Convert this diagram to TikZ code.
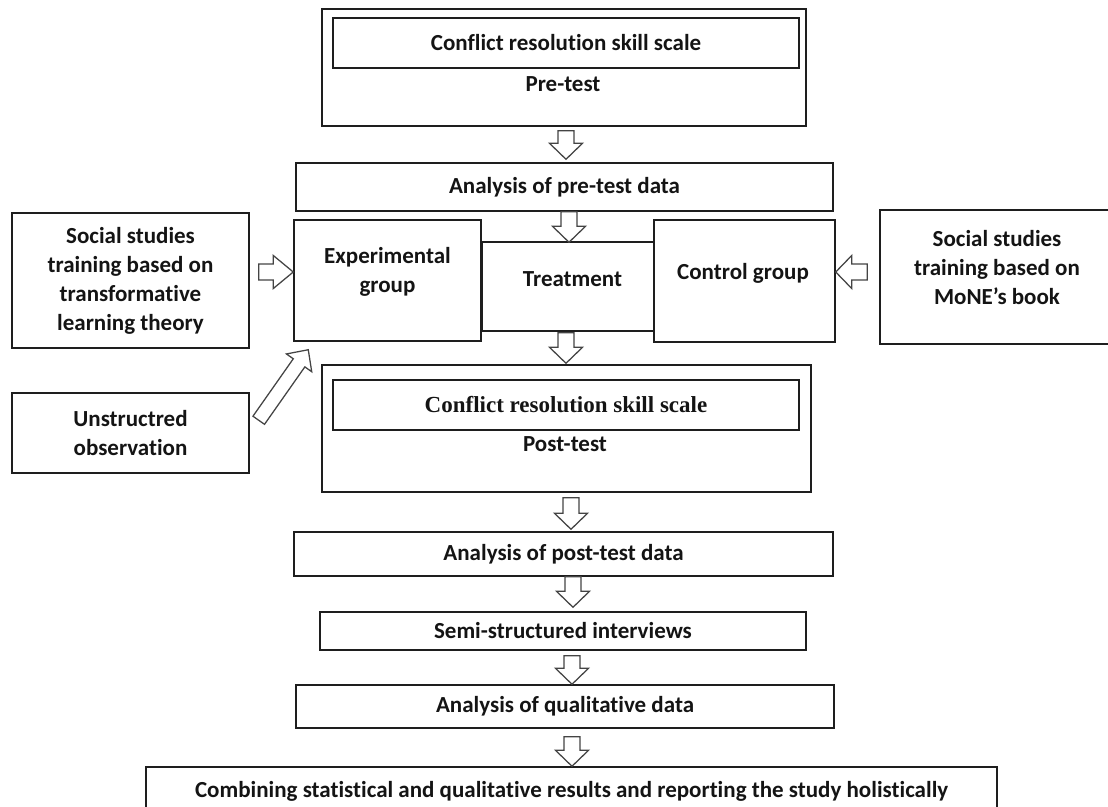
\documentclass[tikz,border=0pt]{standalone}
\usepackage{fontspec}
\setmainfont{Carlito}[Ligatures=NoCommon]
\newfontfamily\scalefont{Liberation Serif}[Ligatures=NoCommon]
\usetikzlibrary{calc}
\definecolor{boxedge}{HTML}{1E1E1E}
\definecolor{arrowedge}{HTML}{444444}
\definecolor{ink}{HTML}{141414}
% default geometry of the hollow block arrows
\def\hshaft{6pt}
\def\hhead{12.4pt}
\def\hlen{12pt}
\begin{document}
\begin{tikzpicture}[x=0.75pt,y=-0.75pt,
  every node/.style={font=\fontsize{17.25pt}{21.75pt}\selectfont\bfseries,
    text=ink, align=center, inner sep=0pt},
  box/.style 2 args={draw=boxedge, line width=1.1pt,
    minimum width=#1*0.75pt, minimum height=#2*0.75pt},
  serifbold/.style={font=\scalefont\fontsize{17.25pt}{21.75pt}\selectfont\bfseries},
  shaft w/.code={\def\hshaft{#1}},
  head w/.code={\def\hhead{#1}},
  head l/.code={\def\hlen{#1}},
  hollow/.style={draw=arrowedge, line width=0.95pt, fill=white, line join=miter,
    to path={
      ($(\tikztotarget)!\hlen!(\tikztostart)$) coordinate (hb)
      ($(\tikztostart)!\hshaft!90:(\tikztotarget)$)
      -- ($(hb)!\hshaft!-90:(\tikztostart)$)
      -- ($(hb)!\hhead!-90:(\tikztostart)$)
      -- (\tikztotarget)
      -- ($(hb)!\hhead!90:(\tikztostart)$)
      -- ($(hb)!\hshaft!90:(\tikztostart)$)
      -- ($(\tikztostart)!\hshaft!-90:(\tikztotarget)$)
      -- cycle}}
]
\useasboundingbox (0,0) rectangle (1108,807);

% pre-test block
\node[box={484}{117}] (top) at (564,67.5) {};
\node[box={466}{50}] (topin) at (566,43) {Conflict resolution skill scale};
\node (pre) at (563,84) {Pre-test};

\node[box={537}{48}] (anapre) at (564.5,187) {Analysis of pre-test data};

% treatment row
\node[box={187}{121}] (exp) at (387.5,280.5) {};
\node (expt) at (387.5,271.5) {Experimental\\group};
\node[box={172}{89}] (treat) at (568,286.5) {};
\node (treatt) at (572.5,279) {Treatment};
\node[box={181}{122}] (ctrl) at (744.5,281) {};
\node (ctrlt) at (743,273) {Control group};

% side inputs
\node[box={237}{135}] (lsoc) at (130.5,280.5)
  {Social studies\\training based on\\transformative\\learning theory};
\node[box={234}{134}] (rsoc) at (997,277) {};
\node (rsoct) at (997,268) {Social studies\\training based on\\MoNE’s book};
\node[box={237}{80}] (unst) at (130.5,433) {Unstructred\\observation};

% post-test block
\node[box={489}{127}] (post) at (566.5,428.5) {};
\node[box={466}{50}, serifbold] (postin) at (566,405) {Conflict resolution skill scale};
\node (postt) at (565,444) {Post-test};

% analysis chain
\node[box={539}{44}] (anapost) at (563.5,554) {Analysis of post-test data};
\node[box={486}{38}] (semi) at (563,631) {Semi-structured interviews};
\node[box={538}{43}] (anaqual) at (565,706.5) {Analysis of qualitative data};
\node[box={851}{48}] (comb) at (571.5,791)
  {Combining statistical and qualitative results and reporting the study holistically};

% block arrows
\draw[hollow] ($(top.south)+(2,4)$) to ($(anapre.north)+(1.5,-3)$);
\draw[hollow] ($(anapre.south)+(4.5,0)$) to ($(treat.north)+(1,1)$);
\draw[hollow] ($(treat.south)+(-2,1)$) to ($(post.north)+(-0.5,-1)$);
\draw[hollow] ($(post.south)+(4.5,5)$) to ($(anapost.north)+(7.5,-2)$);
\draw[hollow] ($(anapost.south)+(9.5,0)$) to ($(semi.north)+(10,-4)$);
\draw[hollow] ($(semi.south)+(9,5)$) to ($(anaqual.north)+(7,0)$);
\draw[hollow] ($(anaqual.south)+(7,8)$) to ($(comb.north)+(0.5,0)$);
\draw[hollow, head l=15pt] ($(lsoc.east)+(9,-8.5)$) to ($(exp.west)+(0,-8.5)$);
\draw[hollow] ($(rsoc.west)+(-12,-5)$) to ($(ctrl.east)+(0,-9)$);
\draw[hollow, shaft w=5.3pt, head w=11.6pt] ($(unst.north east)+(9,28)$) to ($(exp.south west)+(15,8)$);
\end{tikzpicture}
\end{document}
